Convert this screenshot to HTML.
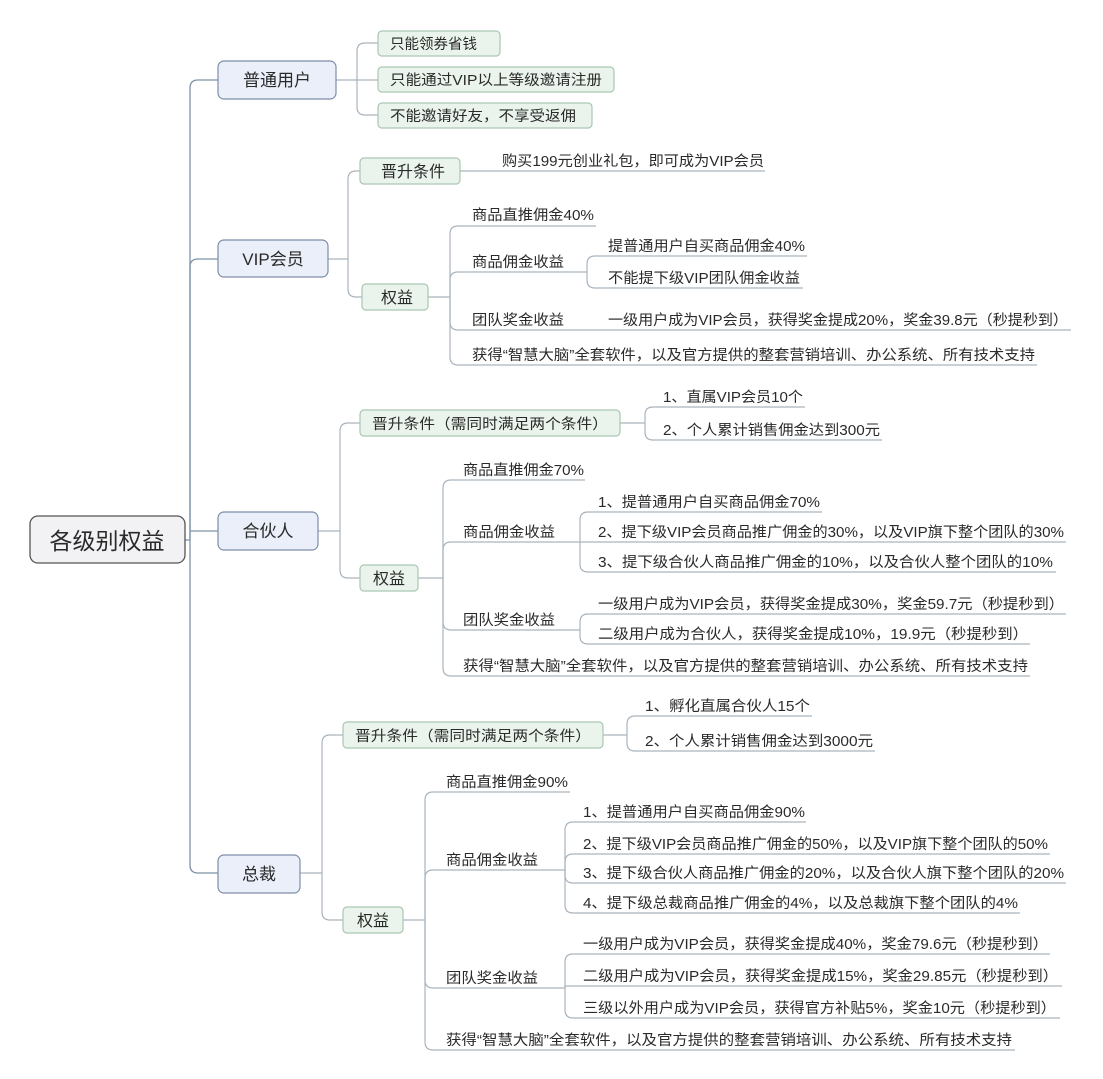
<!DOCTYPE html>
<html><head><meta charset="utf-8"><style>
html,body{margin:0;padding:0;background:#fff;width:1103px;height:1079px;overflow:hidden}
svg{display:block}
text{font-family:"Liberation Sans","Noto Sans CJK SC",sans-serif;fill:#2a2a2a;font-size:14.5px}
text.big{font-size:23px}
text.l1{font-size:17px}
.c{fill:none;stroke:#a9b3bd;stroke-width:1.2}
.m{fill:none;stroke:#7e93a8;stroke-width:1.3}
.b1{fill:#eaeff9;stroke:#7d8ea8;stroke-width:1.2}
.b2{fill:#eaf4ec;stroke:#aac6b2;stroke-width:1.2}
</style></head><body>
<svg width="1103" height="1079" viewBox="0 0 1103 1079">
<g class="m">
<path d="M185 540 H190"/>
<path d="M190 540 V88 Q190 80 198 80 H218"/>
<path d="M190 540 V267 Q190 259 198 259 H218"/>
<path d="M190 531 H218"/>
<path d="M190 540 V865 Q190 873 198 873 H218"/>
</g>
<g class="c">
<path d="M336 80 H357"/>
<path d="M357 80 V51 Q357 43 365 43 H378"/>
<path d="M357 80 H378"/>
<path d="M357 80 V107 Q357 115 365 115 H378"/>
<path d="M328 259 H348"/>
<path d="M348 259 V179 Q348 171 356 171 H360"/>
<path d="M348 259 V289 Q348 297 356 297 H362"/>
<path d="M460 171 H765"/>
<path d="M428 297 H450"/>
<path d="M450 297 V234 Q450 226 458 226 H596"/>
<path d="M450 297 V280 Q450 272 458 272 H587"/>
<path d="M450 297 V322 Q450 330 458 330 H1071"/>
<path d="M450 297 V357 Q450 365 458 365 H1037"/>
<path d="M587 272 V264 Q587 256 595 256 H807"/>
<path d="M587 272 V280 Q587 288 595 288 H803"/>
<path d="M318 531 H340"/>
<path d="M340 531 V431 Q340 423 348 423 H360"/>
<path d="M340 531 V570 Q340 578 348 578 H360"/>
<path d="M620 423 H645"/>
<path d="M645 423 V415 Q645 407 653 407 H805"/>
<path d="M645 423 V432 Q645 440 653 440 H882"/>
<path d="M418 578 H443"/>
<path d="M443 578 V488 Q443 480 451 480 H585"/>
<path d="M443 578 V550 Q443 542 451 542 H580"/>
<path d="M443 578 V622 Q443 630 451 630 H580"/>
<path d="M443 578 V668 Q443 676 451 676 H1030"/>
<path d="M580 542 V520 Q580 512 588 512 H822"/>
<path d="M580 542 H1066"/>
<path d="M580 542 V564 Q580 572 588 572 H1056"/>
<path d="M580 630 V622 Q580 614 588 614 H1066"/>
<path d="M580 630 V636 Q580 644 588 644 H1030"/>
<path d="M300 873 H322"/>
<path d="M322 873 V743 Q322 735 330 735 H343"/>
<path d="M322 873 V912 Q322 920 330 920 H343"/>
<path d="M603 735 H627"/>
<path d="M627 735 V724 Q627 716 635 716 H812"/>
<path d="M627 735 V743 Q627 751 635 751 H875"/>
<path d="M403 920 H425"/>
<path d="M425 920 V800 Q425 792 433 792 H570"/>
<path d="M425 920 V878 Q425 870 433 870 H565"/>
<path d="M425 920 V980 Q425 988 433 988 H565"/>
<path d="M425 920 V1042 Q425 1050 433 1050 H1015"/>
<path d="M565 870 V830 Q565 822 573 822 H806"/>
<path d="M565 870 V862 Q565 854 573 854 H1050"/>
<path d="M565 870 V875 Q565 883 573 883 H1066"/>
<path d="M565 870 V905 Q565 913 573 913 H1020"/>
<path d="M565 988 V962 Q565 954 573 954 H1050"/>
<path d="M565 988 V986 H1062"/>
<path d="M565 988 V1010 Q565 1018 573 1018 H1060"/>
</g>
<rect x="30" y="516" width="155" height="47" rx="8" fill="#f2f2f4" stroke="#555" stroke-width="1.3"/>
<text class="big" x="107" y="549" text-anchor="middle">各级别权益</text>
<rect class="b1" x="218" y="61" width="118" height="38" rx="6"/><text class="l1" x="277" y="86" text-anchor="middle">普通用户</text>
<rect class="b1" x="218" y="240" width="110" height="37" rx="6"/><text class="l1" x="273" y="265" text-anchor="middle">VIP会员</text>
<rect class="b1" x="218" y="512" width="100" height="38" rx="6"/><text class="l1" x="268" y="537" text-anchor="middle">合伙人</text>
<rect class="b1" x="218" y="855" width="82" height="38" rx="6"/><text class="l1" x="259" y="880" text-anchor="middle">总裁</text>

<rect class="b2" x="378" y="31" width="122" height="25" rx="4"/><text x="390" y="49">只能领券省钱</text>
<rect class="b2" x="378" y="67" width="236" height="25" rx="4"/><text x="390" y="85" textLength="212" lengthAdjust="spacingAndGlyphs">只能通过VIP以上等级邀请注册</text>
<rect class="b2" x="378" y="103" width="214" height="25" rx="4"/><text x="390" y="121" textLength="186" lengthAdjust="spacingAndGlyphs">不能邀请好友，不享受返佣</text>

<rect class="b2" x="360" y="158" width="100" height="26" rx="4"/><text x="381" y="177" class="l1" style="font-size:16px">晋升条件</text>
<rect class="b2" x="362" y="284" width="66" height="26" rx="4"/><text x="381" y="303" style="font-size:16px">权益</text>
<rect class="b2" x="360" y="410" width="260" height="26" rx="4"/><text x="372" y="429" textLength="236" lengthAdjust="spacingAndGlyphs">晋升条件（需同时满足两个条件）</text>
<rect class="b2" x="360" y="565" width="58" height="26" rx="4"/><text x="373" y="584" style="font-size:16px">权益</text>
<rect class="b2" x="343" y="722" width="260" height="26" rx="4"/><text x="355" y="741" textLength="236" lengthAdjust="spacingAndGlyphs">晋升条件（需同时满足两个条件）</text>
<rect class="b2" x="343" y="907" width="60" height="26" rx="4"/><text x="357" y="926" style="font-size:16px">权益</text>

<text x="502" y="166" textLength="262" lengthAdjust="spacingAndGlyphs">购买199元创业礼包，即可成为VIP会员</text>
<text x="472" y="220" textLength="122" lengthAdjust="spacingAndGlyphs">商品直推佣金40%</text>
<text x="472" y="267" textLength="92" lengthAdjust="spacingAndGlyphs">商品佣金收益</text>
<text x="472" y="325" textLength="92" lengthAdjust="spacingAndGlyphs">团队奖金收益</text>
<text x="472" y="360" textLength="563" lengthAdjust="spacingAndGlyphs">获得“智慧大脑”全套软件，以及官方提供的整套营销培训、办公系统、所有技术支持</text>
<text x="608" y="251" textLength="197" lengthAdjust="spacingAndGlyphs">提普通用户自买商品佣金40%</text>
<text x="608" y="283" textLength="192" lengthAdjust="spacingAndGlyphs">不能提下级VIP团队佣金收益</text>
<text x="608" y="325" textLength="460" lengthAdjust="spacingAndGlyphs">一级用户成为VIP会员，获得奖金提成20%，奖金39.8元（秒提秒到）</text>
<text x="663" y="402" textLength="140" lengthAdjust="spacingAndGlyphs">1、直属VIP会员10个</text>
<text x="663" y="435" textLength="217" lengthAdjust="spacingAndGlyphs">2、个人累计销售佣金达到300元</text>
<text x="463" y="475" textLength="121" lengthAdjust="spacingAndGlyphs">商品直推佣金70%</text>
<text x="463" y="537" textLength="92" lengthAdjust="spacingAndGlyphs">商品佣金收益</text>
<text x="463" y="625" textLength="92" lengthAdjust="spacingAndGlyphs">团队奖金收益</text>
<text x="463" y="671" textLength="565" lengthAdjust="spacingAndGlyphs">获得“智慧大脑”全套软件，以及官方提供的整套营销培训、办公系统、所有技术支持</text>
<text x="598" y="507" textLength="222" lengthAdjust="spacingAndGlyphs">1、提普通用户自买商品佣金70%</text>
<text x="598" y="537" textLength="466" lengthAdjust="spacingAndGlyphs">2、提下级VIP会员商品推广佣金的30%，以及VIP旗下整个团队的30%</text>
<text x="598" y="567" textLength="455" lengthAdjust="spacingAndGlyphs">3、提下级合伙人商品推广佣金的10%，以及合伙人整个团队的10%</text>
<text x="598" y="609" textLength="466" lengthAdjust="spacingAndGlyphs">一级用户成为VIP会员，获得奖金提成30%，奖金59.7元（秒提秒到）</text>
<text x="598" y="639" textLength="430" lengthAdjust="spacingAndGlyphs">二级用户成为合伙人，获得奖金提成10%，19.9元（秒提秒到）</text>
<text x="645" y="711" textLength="165" lengthAdjust="spacingAndGlyphs">1、孵化直属合伙人15个</text>
<text x="645" y="746" textLength="228" lengthAdjust="spacingAndGlyphs">2、个人累计销售佣金达到3000元</text>
<text x="446" y="787" textLength="122" lengthAdjust="spacingAndGlyphs">商品直推佣金90%</text>
<text x="446" y="865" textLength="92" lengthAdjust="spacingAndGlyphs">商品佣金收益</text>
<text x="446" y="983" textLength="92" lengthAdjust="spacingAndGlyphs">团队奖金收益</text>
<text x="446" y="1045" textLength="566" lengthAdjust="spacingAndGlyphs">获得“智慧大脑”全套软件，以及官方提供的整套营销培训、办公系统、所有技术支持</text>
<text x="583" y="817" textLength="222" lengthAdjust="spacingAndGlyphs">1、提普通用户自买商品佣金90%</text>
<text x="583" y="849" textLength="465" lengthAdjust="spacingAndGlyphs">2、提下级VIP会员商品推广佣金的50%，以及VIP旗下整个团队的50%</text>
<text x="583" y="878" textLength="481" lengthAdjust="spacingAndGlyphs">3、提下级合伙人商品推广佣金的20%，以及合伙人旗下整个团队的20%</text>
<text x="583" y="908" textLength="435" lengthAdjust="spacingAndGlyphs">4、提下级总裁商品推广佣金的4%，以及总裁旗下整个团队的4%</text>
<text x="583" y="949" textLength="465" lengthAdjust="spacingAndGlyphs">一级用户成为VIP会员，获得奖金提成40%，奖金79.6元（秒提秒到）</text>
<text x="583" y="981" textLength="475" lengthAdjust="spacingAndGlyphs">二级用户成为VIP会员，获得奖金提成15%，奖金29.85元（秒提秒到）</text>
<text x="583" y="1013" textLength="473" lengthAdjust="spacingAndGlyphs">三级以外用户成为VIP会员，获得官方补贴5%，奖金10元（秒提秒到）</text>
</svg>
</body></html>
